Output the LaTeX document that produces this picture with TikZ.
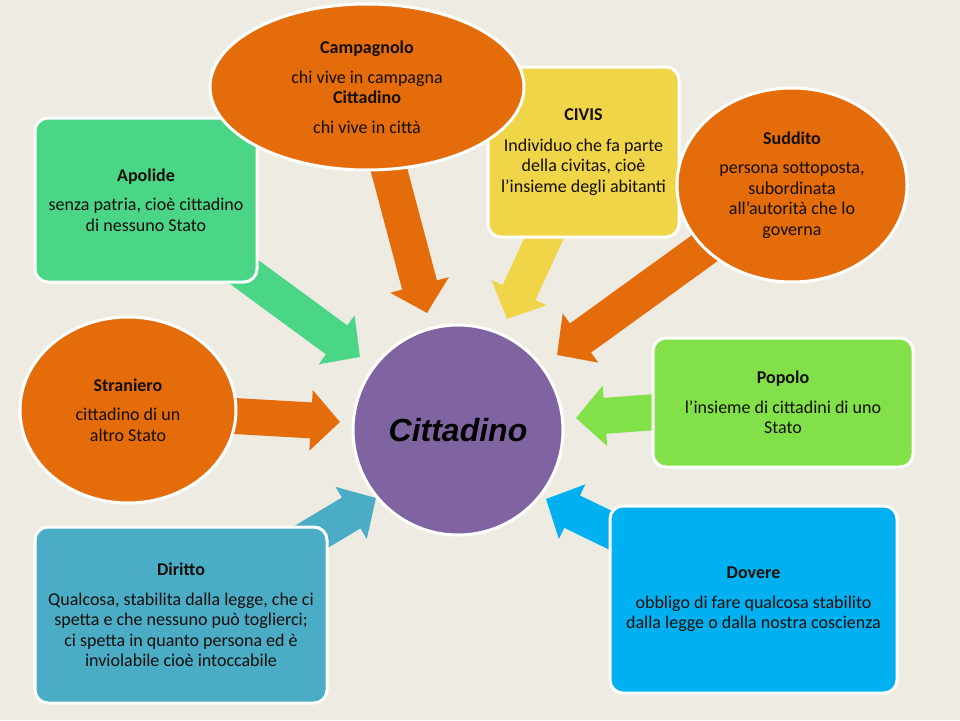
\documentclass[tikz,border=0pt]{standalone}
\usepackage{fontspec}
\setmainfont{Carlito}
\newfontfamily\arialfont{Liberation Sans}
\usetikzlibrary{shapes.geometric,arrows.meta}
\pgfdeclarelayer{back}
\pgfdeclarelayer{arrowlayer}
\pgfsetlayers{back,arrowlayer,main}
\definecolor{bgc}{RGB}{238,236,226}
\definecolor{orangec}{RGB}{228,108,10}
\definecolor{purplec}{RGB}{128,100,162}
\definecolor{yellowc}{RGB}{241,213,72}
\definecolor{greenc}{RGB}{75,213,134}
\definecolor{tealc}{RGB}{75,172,198}
\definecolor{limec}{RGB}{130,224,72}
\definecolor{bluec}{RGB}{0,176,240}
\definecolor{txtc}{RGB}{20,15,10}
\begin{document}
\begin{tikzpicture}[x=1pt,y=-1pt,
  txtfont/.style={font=\fontsize{18}{20.5}\selectfont},
  box/.style={draw=white, line width=3pt, rounded corners=13pt, align=center,
    inner sep=0pt, text=txtc, txtfont},
  oval/.style={ellipse, draw=white, line width=3pt, align=center,
    inner sep=0pt, text=txtc, txtfont},
  blk/.style={line width=36pt, -{Triangle[width=59pt,length=29pt]}},
]
\useasboundingbox (0,0) rectangle (960,720);
\begin{pgfonlayer}{back}
\fill[bgc] (0,0) rectangle (960,720);
\end{pgfonlayer}

% central circle
\node[circle, draw=white, line width=3pt, fill=purplec, minimum size=210pt, inner sep=0pt,
  font=\arialfont\bfseries\itshape\fontsize{32}{36}\selectfont, text=black]
  (cit) at (458,430) {Cittadino};

% nodes
\node[box, fill=greenc, minimum width=222pt, minimum height=164pt] (apol) at (146,200)
  {\textbf{Apolide}\\[9pt]senza patria, cioè cittadino\\di nessuno Stato};
\node[box, fill=yellowc, minimum width=191pt, minimum height=170pt] (civis) at (583.5,152)
  {\textbf{CIVIS}\\[10pt]Individuo che fa parte\\della civitas, cioè\\l’insieme degli abitanti};
\node[oval, fill=orangec, minimum width=314pt, minimum height=166pt] (camp) at (367,87)
  {\textbf{Campagnolo}\\[9pt]chi vive in campagna\\\textbf{Cittadino}\\[9pt]chi vive in città};
\node[oval, fill=orangec, minimum width=230pt, minimum height=194pt] (sudd) at (792,185)
  {\textbf{Suddito}\\[9pt]persona sottoposta,\\subordinata\\all’autorità che lo\\governa};
\node[oval, fill=orangec, minimum width=216pt, minimum height=186pt] (stran) at (128,410)
  {\textbf{Straniero}\\[9pt]cittadino di un\\altro Stato};
\node[box, fill=limec, minimum width=260pt, minimum height=129pt] (pop) at (783,402.5)
  {\textbf{Popolo}\\[9pt]l’insieme di cittadini di uno\\Stato};
\node[box, fill=tealc, minimum width=292pt, minimum height=176pt] (dir) at (181,615)
  {\textbf{Diritto}\\[9pt]Qualcosa, stabilita dalla legge, che ci\\spetta e che nessuno può toglierci;\\ci spetta in quanto persona ed è\\inviolabile cioè intoccabile};
\node[box, fill=bluec, minimum width=287pt, minimum height=187pt] (dov) at (753.5,599.5)
  {\textbf{Dovere}\\[9pt]obbligo di fare qualcosa stabilito\\dalla legge o dalla nostra coscienza};

% arrow tips
\coordinate (tApol) at (360,357);
\coordinate (tCamp) at (427,313);
\coordinate (tCivis) at (507,319);
\coordinate (tSudd) at (557,355);
\coordinate (tStran) at (340,422);
\coordinate (tPop) at (576,418);
\coordinate (tDov) at (546,499);
\coordinate (tDir) at (376,498);

\begin{pgfonlayer}{arrowlayer}
\draw[blk, draw=greenc, fill=greenc] (apol.center) -- (tApol);
\draw[blk, draw=orangec, fill=orangec] (camp.center) -- (tCamp);
\draw[blk, draw=yellowc, fill=yellowc] (civis.center) -- (tCivis);
\draw[blk, draw=orangec, fill=orangec] (sudd.center) -- (tSudd);
\draw[blk, draw=orangec, fill=orangec] (stran.center) -- (tStran);
\draw[blk, draw=limec, fill=limec] (pop.center) -- (tPop);
\draw[blk, draw=bluec, fill=bluec] (dov.center) -- (tDov);
\draw[blk, draw=tealc, fill=tealc] (dir.center) -- (tDir);
\end{pgfonlayer}
\end{tikzpicture}
\end{document}
